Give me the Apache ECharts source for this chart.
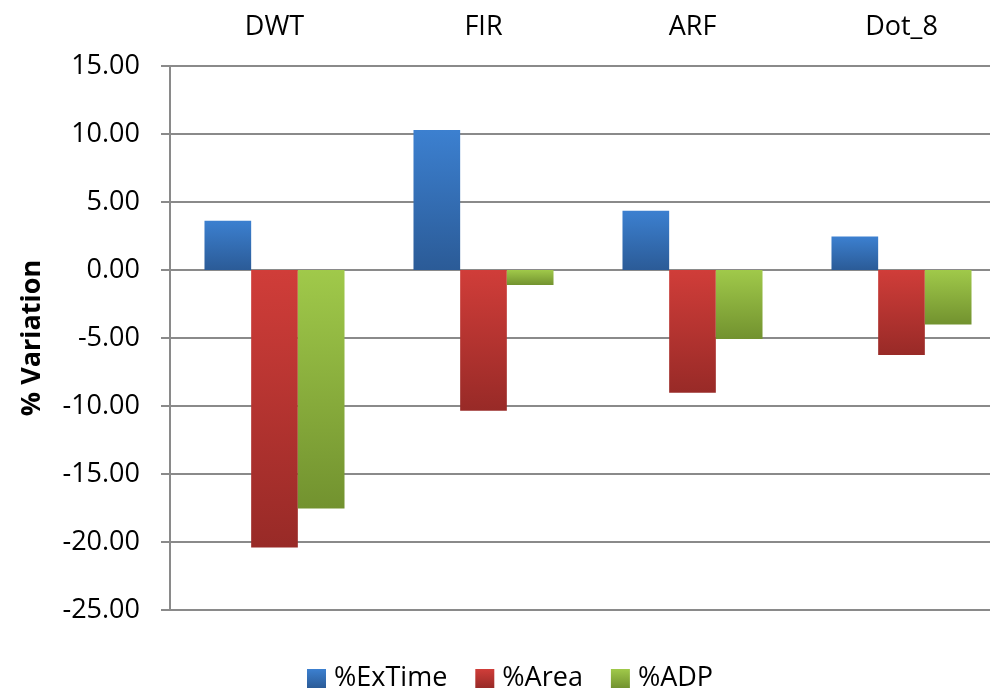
<!DOCTYPE html>
<html>
<head>
<meta charset="utf-8">
<script src="https://cdn.jsdelivr.net/npm/echarts@6/dist/echarts.min.js"></script>
<style>
  html, body { margin: 0; padding: 0; background: #fff; }
  #chart { width: 990px; height: 688px; }
</style>
</head>
<body>
<div id="chart"></div>
<script>
// Benchmarks and the percentage change of each metric
const categories = ['DWT', 'FIR', 'ARF', 'Dot_8'];
const exTime = [3.63, 10.30, 4.36, 2.46];
const area = [-20.40, -10.35, -9.03, -6.25];
const adp = [-17.54, -1.11, -5.07, -4.00];
const seriesNames = ['%ExTime', '%Area', '%ADP'];
const yTicks = { min: -25, max: 15, interval: 5 };

const FONT = '"Open Sans", "Noto Sans", sans-serif';
const GRID_GRAY = '#8a8a8a';

function grad(top, bottom) {
  return new echarts.graphic.LinearGradient(0, 0, 0, 1, [
    { offset: 0, color: top },
    { offset: 1, color: bottom }
  ]);
}

const fills = [
  grad('#3c80d0', '#2b5b97'),
  grad('#d03d39', '#982a27'),
  grad('#a0c94a', '#72922f')
];

const values = [exTime, area, adp];

const chart = echarts.init(document.getElementById('chart'), null, { renderer: 'canvas' });

chart.setOption({
  animation: false,
  backgroundColor: '#ffffff',
  // plot area runs slightly past the right edge of the canvas
  grid: {
    left: 170, width: 836, top: 66, height: 544,
    containLabel: false,
    outerBoundsMode: 'none'
  },
  legend: {
    data: seriesNames,
    left: 302,
    top: 660,
    icon: 'rect',
    itemWidth: 19,
    itemHeight: 19,
    itemGap: 28,
    textStyle: { fontFamily: FONT, fontSize: 27, color: '#000', padding: [0, 0, 0, 3] }
  },
  xAxis: {
    type: 'category',
    data: categories,
    position: 'top',
    axisLine: { show: false, onZero: false },
    axisTick: { show: false },
    axisLabel: { margin: 25, fontFamily: FONT, fontSize: 27, color: '#000' }
  },
  yAxis: {
    type: 'value',
    min: yTicks.min,
    max: yTicks.max,
    interval: yTicks.interval,
    name: '% Variation',
    nameLocation: 'middle',
    nameGap: 124,
    nameTextStyle: { fontFamily: FONT, fontSize: 27, fontWeight: 'bold', color: '#000' },
    axisLine: { show: true, lineStyle: { color: GRID_GRAY, width: 2 } },
    axisTick: { show: true, inside: false, length: 9, lineStyle: { color: GRID_GRAY, width: 2 } },
    axisLabel: {
      margin: 30,
      fontFamily: FONT,
      fontSize: 27,
      color: '#000',
      formatter: v => v.toFixed(2)
    },
    splitLine: { show: true, lineStyle: { color: GRID_GRAY, width: 2 } }
  },
  series: seriesNames.map((name, i) => ({
    name: name,
    type: 'bar',
    data: values[i],
    barGap: '0%',
    barCategoryGap: '33%',
    itemStyle: { color: fills[i] }
  }))
});
</script>
</body>
</html>
